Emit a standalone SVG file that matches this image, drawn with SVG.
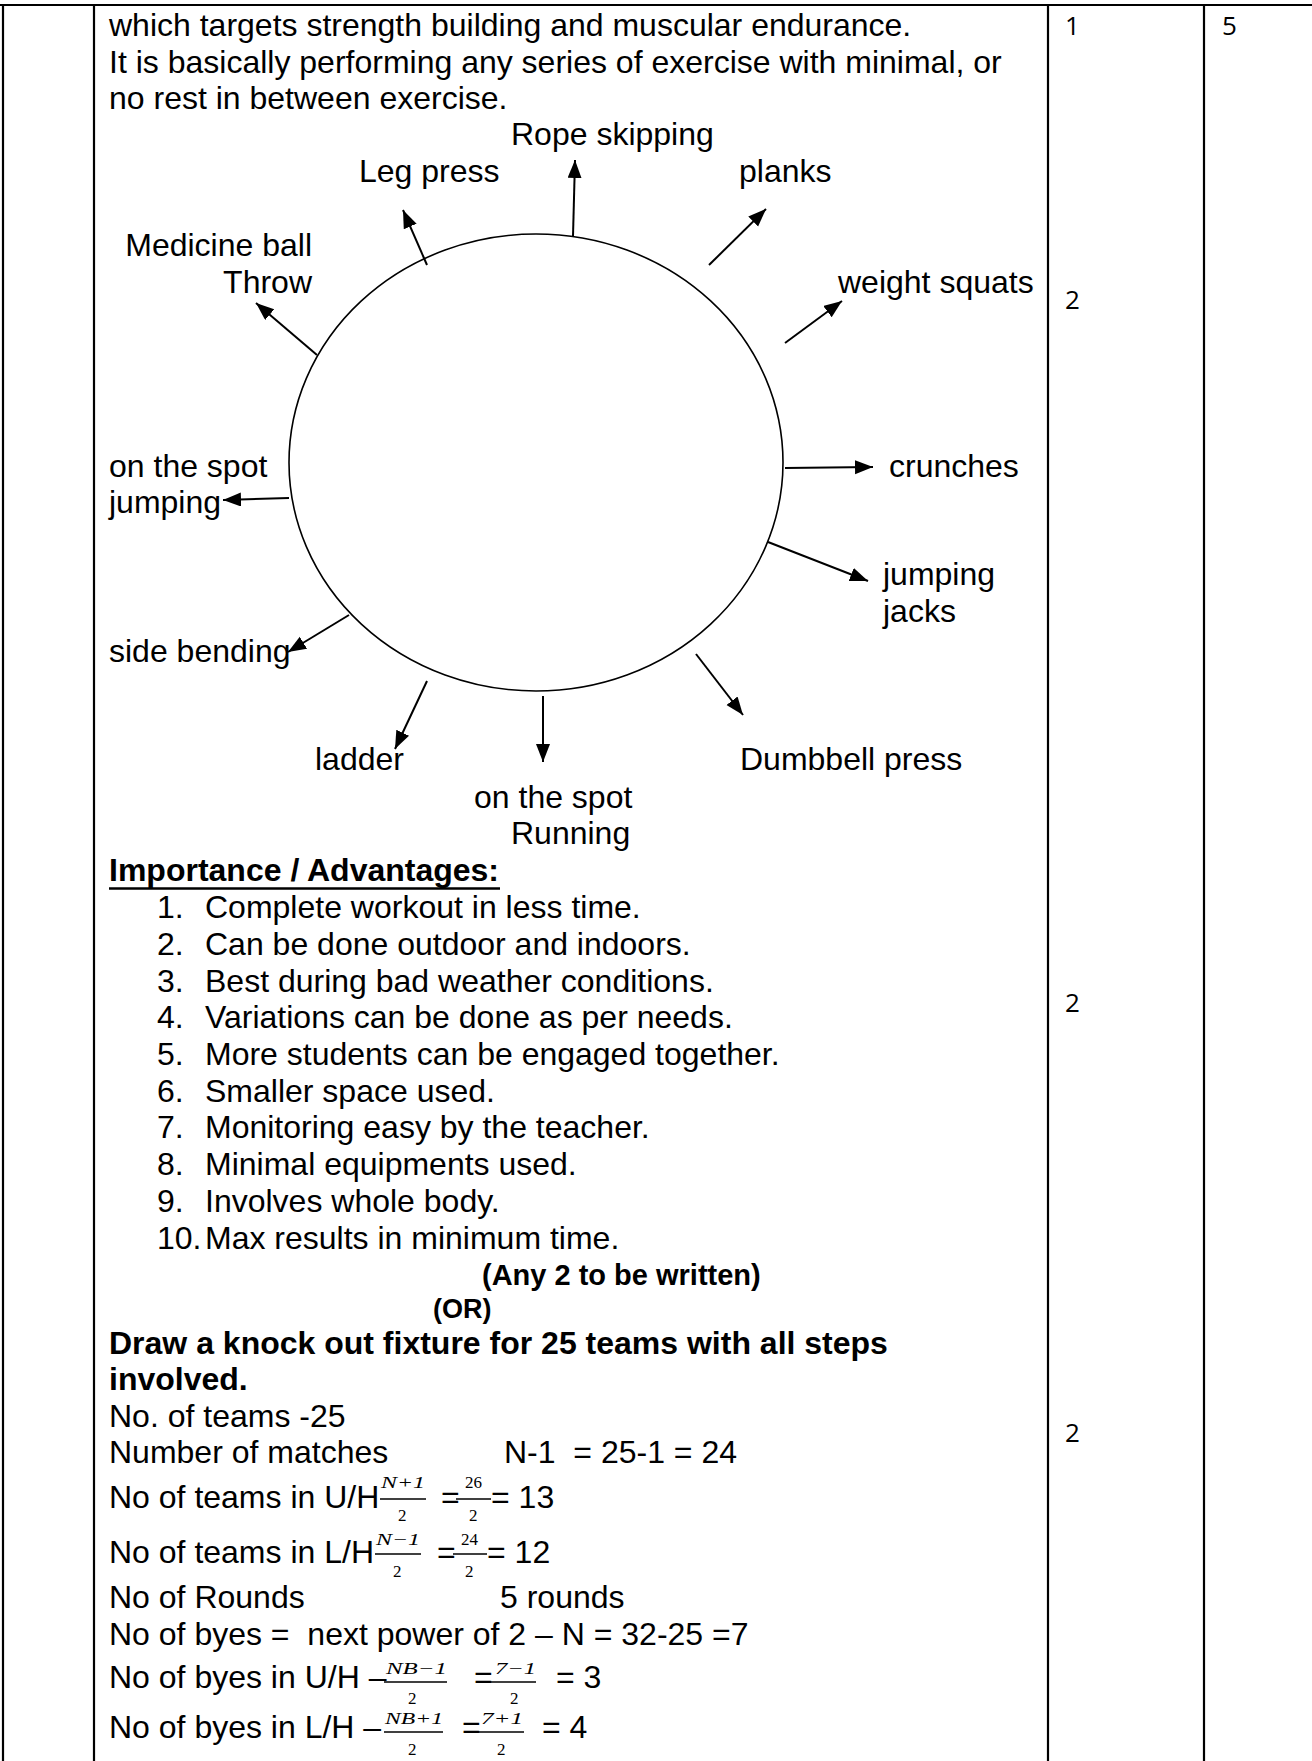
<svg xmlns="http://www.w3.org/2000/svg" width="1312" height="1761" viewBox="0 0 1312 1761">
<style>
  text { font-family: "Liberation Sans", Arial, sans-serif; font-size: 32px; fill: #000; }
  .b { font-weight: bold; }
  .mk { font-family: "Open Sans", "Noto Sans", sans-serif; font-size: 26px; }
  .m { font-family: "Liberation Serif", "Times New Roman", serif; font-style: italic; font-size: 17px; }
  .mn { font-family: "Liberation Serif", "Times New Roman", serif; font-size: 17px; }
  .tbl { stroke: #000; stroke-width: 2.2; fill: none; }
  .arr { stroke: #000; stroke-width: 2; fill: none; marker-end: url(#ah); }
  .bar { stroke: #000; stroke-width: 1.4; }
</style>
<defs>
  <marker id="ah" markerUnits="userSpaceOnUse" markerWidth="19" markerHeight="15" refX="18" refY="7" orient="auto">
    <path d="M0,0 L18,7 L0,14 z" fill="#000"/>
  </marker>
</defs>
<rect x="0" y="0" width="1312" height="1761" fill="#fff"/>

<g id="table">
  <line class="tbl" x1="0" y1="5" x2="1312" y2="5"/>
  <line class="tbl" x1="3" y1="4" x2="3" y2="1761"/>
  <line class="tbl" x1="94" y1="4" x2="94" y2="1761"/>
  <line class="tbl" x1="1048" y1="4" x2="1048" y2="1761"/>
  <line class="tbl" x1="1204" y1="4" x2="1204" y2="1761"/>
</g>

<g id="marks">
  <text class="mk" x="1065" y="35">1</text>
  <text class="mk" x="1222" y="35">5</text>
  <text class="mk" x="1065" y="309">2</text>
  <text class="mk" x="1065" y="1012">2</text>
  <text class="mk" x="1065" y="1442">2</text>
</g>

<g id="intro">
  <text x="109" y="36">which targets strength building and muscular endurance.</text>
  <text x="109" y="73">It is basically performing any series of exercise with minimal, or</text>
  <text x="109" y="109">no rest in between exercise.</text>
</g>

<g id="circuit">
  <ellipse cx="536" cy="462.5" rx="247" ry="228.5" fill="none" stroke="#000" stroke-width="1.6"/>
</g>

<g id="connectors">
  <line class="arr" x1="573" y1="236" x2="575" y2="160"/>
  <line class="arr" x1="427" y1="265" x2="403" y2="210"/>
  <line class="arr" x1="709" y1="265" x2="766" y2="209"/>
  <line class="arr" x1="785" y1="343" x2="842" y2="301"/>
  <line class="arr" x1="317" y1="355" x2="256" y2="303"/>
  <line class="arr" x1="289" y1="498" x2="223" y2="500"/>
  <line class="arr" x1="785" y1="468" x2="873" y2="467"/>
  <line class="arr" x1="768" y1="542" x2="868" y2="581"/>
  <line class="arr" x1="349" y1="615" x2="288" y2="652"/>
  <line class="arr" x1="427" y1="681" x2="395" y2="749"/>
  <line class="arr" x1="543" y1="696" x2="543" y2="762"/>
  <line class="arr" x1="696" y1="654" x2="743" y2="715"/>
</g>

<g id="rope-skipping"><text x="511" y="145">Rope skipping</text></g>
<g id="leg-press"><text x="359" y="182">Leg press</text></g>
<g id="planks"><text x="739" y="182">planks</text></g>
<g id="medicine-ball"><text x="312" y="256" text-anchor="end">Medicine ball</text><text x="312" y="293" text-anchor="end">Throw</text></g>
<g id="weight-squats"><text x="838" y="293">weight squats</text></g>
<g id="spot-jumping"><text x="109" y="477">on the spot</text><text x="109" y="513">jumping</text></g>
<g id="crunches"><text x="889" y="477">crunches</text></g>
<g id="jumping-jacks"><text x="883" y="585">jumping</text><text x="883" y="622">jacks</text></g>
<g id="side-bending"><text x="109" y="662">side bending</text></g>
<g id="ladder"><text x="315" y="770">ladder</text></g>
<g id="dumbbell-press"><text x="740" y="770">Dumbbell press</text></g>
<g id="spot-running"><text x="474" y="808">on the spot</text><text x="511" y="844">Running</text></g>

<g id="advantages">
  <text class="b" x="109" y="881">Importance / Advantages:</text>
  <line x1="109" y1="888.5" x2="500" y2="888.5" stroke="#000" stroke-width="2.5"/>
  <text x="157" y="918">1.</text><text x="205" y="918">Complete workout in less time.</text>
  <text x="157" y="955">2.</text><text x="205" y="955">Can be done outdoor and indoors.</text>
  <text x="157" y="992">3.</text><text x="205" y="992">Best during bad weather conditions.</text>
  <text x="157" y="1028">4.</text><text x="205" y="1028">Variations can be done as per needs.</text>
  <text x="157" y="1065">5.</text><text x="205" y="1065">More students can be engaged together.</text>
  <text x="157" y="1102">6.</text><text x="205" y="1102">Smaller space used.</text>
  <text x="157" y="1138">7.</text><text x="205" y="1138">Monitoring easy by the teacher.</text>
  <text x="157" y="1175">8.</text><text x="205" y="1175">Minimal equipments used.</text>
  <text x="157" y="1212">9.</text><text x="205" y="1212">Involves whole body.</text>
  <text x="157" y="1249">10.</text><text x="205" y="1249">Max results in minimum time.</text>
  <text class="b" x="482" y="1285" style="font-size:29px">(Any 2 to be written)</text>
  <text class="b" x="433" y="1318" style="font-size:27px">(OR)</text>
</g>

<g id="fixture">
  <text class="b" x="109" y="1354">Draw a knock out fixture for 25 teams with all steps</text>
  <text class="b" x="109" y="1390">involved.</text>
  <text x="109" y="1427">No. of teams -25</text>
  <text x="109" y="1463">Number of matches</text>
  <text x="504" y="1463" xml:space="preserve">N-1  = 25-1 = 24</text>

  <text x="109" y="1508">No of teams in U/H</text>
  <text class="m" x="381" y="1488" textLength="44" lengthAdjust="spacingAndGlyphs">N+1</text>
  <line class="bar" x1="380" y1="1499" x2="426" y2="1499"/>
  <text class="mn" x="398" y="1521">2</text>
  <text x="441" y="1508">=</text>
  <text class="mn" x="465" y="1488">26</text>
  <line class="bar" x1="456" y1="1499" x2="491" y2="1499"/>
  <text class="mn" x="469" y="1521">2</text>
  <text x="491" y="1508">= 13</text>

  <text x="109" y="1563">No of teams in L/H</text>
  <text class="m" x="376" y="1545" textLength="44" lengthAdjust="spacingAndGlyphs">N−1</text>
  <line class="bar" x1="375" y1="1554" x2="421" y2="1554"/>
  <text class="mn" x="393" y="1577">2</text>
  <text x="437" y="1563">=</text>
  <text class="mn" x="461" y="1545">24</text>
  <line class="bar" x1="453" y1="1554" x2="487" y2="1554"/>
  <text class="mn" x="465" y="1577">2</text>
  <text x="487" y="1563">= 12</text>

  <text x="109" y="1608">No of Rounds</text>
  <text x="500" y="1608">5 rounds</text>
  <text x="109" y="1645" xml:space="preserve">No of byes =  next power of 2 – N = 32-25 =7</text>

  <text x="109" y="1688">No of byes in U/H –</text>
  <text class="m" x="386" y="1674" textLength="61" lengthAdjust="spacingAndGlyphs">NB−1</text>
  <line class="bar" x1="384" y1="1682" x2="447" y2="1682"/>
  <text class="mn" x="408" y="1704">2</text>
  <text x="474" y="1688">=</text>
  <text class="m" x="495" y="1674" textLength="41" lengthAdjust="spacingAndGlyphs">7−1</text>
  <line class="bar" x1="486" y1="1682" x2="536" y2="1682"/>
  <text class="mn" x="510" y="1704">2</text>
  <text x="556" y="1688">= 3</text>

  <text x="109" y="1738">No of byes in L/H –</text>
  <text class="m" x="385" y="1724" textLength="58" lengthAdjust="spacingAndGlyphs">NB+1</text>
  <line class="bar" x1="384" y1="1732" x2="443" y2="1732"/>
  <text class="mn" x="408" y="1755">2</text>
  <text x="462" y="1738">=</text>
  <text class="m" x="481" y="1724" textLength="42" lengthAdjust="spacingAndGlyphs">7+1</text>
  <line class="bar" x1="476" y1="1732" x2="524" y2="1732"/>
  <text class="mn" x="497" y="1755">2</text>
  <text x="542" y="1738">= 4</text>
</g>
</svg>
